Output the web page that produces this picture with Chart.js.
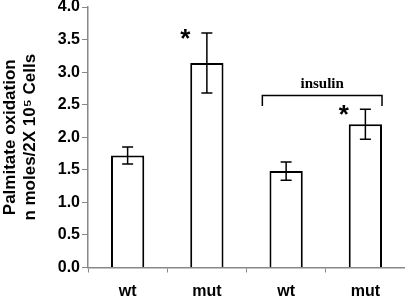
<!DOCTYPE html>
<html>
<head>
<meta charset="utf-8">
<script src="https://cdn.jsdelivr.net/npm/chart.js@4/dist/chart.umd.min.js"></script>
<style>
  html, body { margin: 0; padding: 0; background: #fff; }
  #wrap { width: 405px; height: 296px; }
</style>
</head>
<body>
<div id="wrap"><canvas id="oxChart"></canvas></div>
<script>
const groups = ['wt', 'mut', 'wt', 'mut'];
const means = [1.72, 3.14, 1.48, 2.20];
const errors = [0.13, 0.46, 0.14, 0.23];
const starred = [false, true, false, true];
const bracketLabel = 'insulin';
const bracketFrom = 2, bracketTo = 3;
const yTicks = [0, 0.5, 1, 1.5, 2, 2.5, 3, 3.5, 4];

const annotations = {
    id: 'annotations',
    afterDatasetsDraw(chart) {
        const ctx = chart.ctx;
        const x = chart.scales.x, y = chart.scales.y;
        const meta = chart.getDatasetMeta(0);
        ctx.save();
        ctx.strokeStyle = '#000';
        ctx.fillStyle = '#000';
        ctx.lineWidth = 1.5;
        meta.data.forEach((bar, i) => {
            const cx = bar.x;
            const top = y.getPixelForValue(means[i] + errors[i]);
            const bot = y.getPixelForValue(means[i] - errors[i]);
            ctx.beginPath();
            ctx.moveTo(cx, top); ctx.lineTo(cx, bot);
            ctx.moveTo(cx - 5.5, top); ctx.lineTo(cx + 5.5, top);
            ctx.moveTo(cx - 5.5, bot); ctx.lineTo(cx + 5.5, bot);
            ctx.stroke();
            if (starred[i]) {
                ctx.font = 'bold 26px "Liberation Sans", Arial, sans-serif';
                ctx.textAlign = 'center';
                ctx.textBaseline = 'middle';
                ctx.fillText('*', cx - 21.5, top + 7);
            }
        });
        // bracket over insulin group
        const w = x.getPixelForValue(1) - x.getPixelForValue(0);
        const left = x.getPixelForValue(bracketFrom) - 0.3 * w;
        const right = x.getPixelForValue(bracketTo) + 0.21 * w;
        const by = y.getPixelForValue(2.64);
        const bEnd = y.getPixelForValue(2.48);
        ctx.lineWidth = 1.5;
        ctx.beginPath();
        ctx.moveTo(left, bEnd); ctx.lineTo(left, by);
        ctx.lineTo(right, by); ctx.lineTo(right, bEnd);
        ctx.stroke();
        ctx.font = 'bold 15px "Liberation Serif", "Times New Roman", serif';
        ctx.textAlign = 'center';
        ctx.textBaseline = 'bottom';
        ctx.fillText(bracketLabel, (left + right) / 2, by - 4);
        ctx.restore();
    }
};

const ctx = document.getElementById('oxChart').getContext('2d');
new Chart(ctx, {
    type: 'bar',
    data: {
        labels: groups,
        datasets: [{
            data: means,
            backgroundColor: '#fff',
            borderColor: '#000',
            borderWidth: 2,
            categoryPercentage: 1.0,
            barPercentage: 0.42
        }]
    },
    options: {
        responsive: true,
        maintainAspectRatio: false,
        animation: false,
        layout: { padding: { top: 7, right: 0, bottom: 0, left: 0 } },
        plugins: { legend: { display: false }, tooltip: { enabled: false } },
        scales: {
            x: {
                grid: { drawOnChartArea: false, color: '#888', tickLength: 5, offset: true },
                border: { color: '#888', width: 1.5 },
                ticks: { color: '#000', font: { family: '"Liberation Sans", Arial, sans-serif', size: 16, weight: 'bold' }, padding: 9 },
                afterFit: s => { s.height = 28.5; s.paddingLeft = 0; s.paddingRight = 0; }
            },
            y: {
                min: 0, max: 4,
                afterBuildTicks: s => { s.ticks = yTicks.map(v => ({ value: v })); },
                grid: { drawOnChartArea: false, color: '#888', tickLength: 6 },
                border: { color: '#888', width: 1.5 },
                ticks: {
                    color: '#000',
                    font: { family: '"Liberation Sans", Arial, sans-serif', size: 16, weight: 'bold' },
                    padding: 2,
                    callback: v => v.toFixed(1)
                },
                title: {
                    display: true,
                    text: ['Palmitate oxidation', 'n moles/2X 10\u2075 Cells'],
                    color: '#000',
                    font: { family: '"Liberation Sans", Arial, sans-serif', size: 17, weight: 'bold', lineHeight: 1.2 },
                    padding: { top: 0, bottom: 0 }
                },
                afterFit: s => { s.width = 88; s.paddingTop = 0; s.paddingBottom = 0; }
            }
        }
    },
    plugins: [annotations]
});
</script>
</body>
</html>
